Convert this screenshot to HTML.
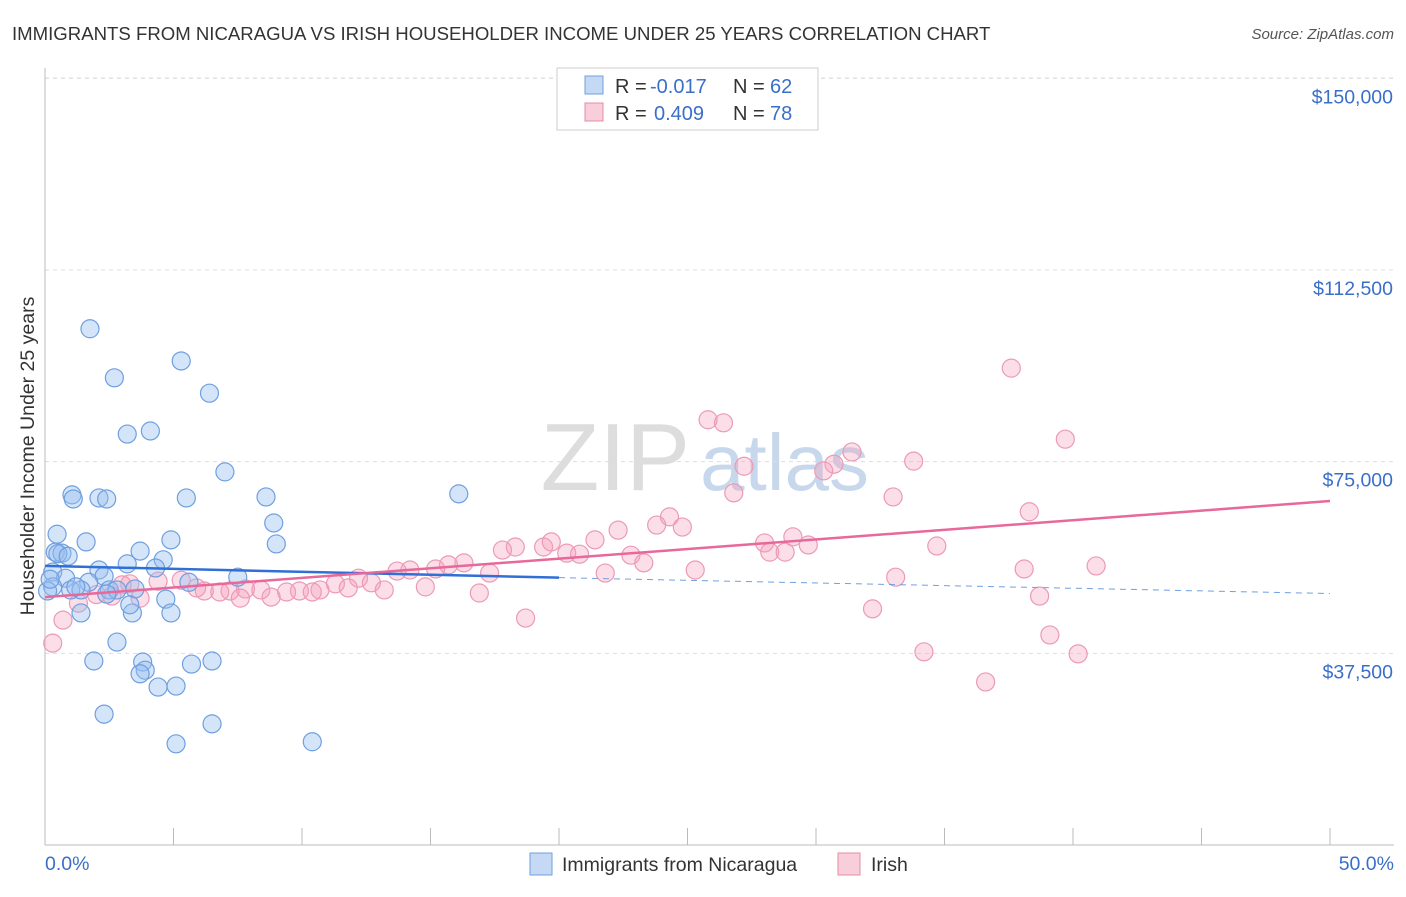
<!DOCTYPE html>
<html><head><meta charset="utf-8"><style>
body{margin:0;background:#fff;font-family:"Liberation Sans",sans-serif}
svg text{font-family:"Liberation Sans",sans-serif}
</style></head><body>
<svg width="1406" height="892" viewBox="0 0 1406 892">
<text x="12" y="40" font-size="18.6" fill="#333">IMMIGRANTS FROM NICARAGUA VS IRISH HOUSEHOLDER INCOME UNDER 25 YEARS CORRELATION CHART</text>
<text x="1394" y="39" font-size="15" fill="#555" font-style="italic" text-anchor="end">Source: ZipAtlas.com</text>
<text x="690" y="490" font-size="96" fill="#ddd" font-family="Liberation Serif" text-anchor="end">ZIP</text>
<text x="700" y="490" font-size="80" fill="#c8d8ec">atlas</text>
<g id="grid"></g>
<g id="axes"></g>
<text transform="translate(34,456) rotate(-90)" font-size="19.5" fill="#333" text-anchor="middle">Householder Income Under 25 years</text>
<text x="45" y="870" font-size="19.5" fill="#3a6fc8">0.0%</text>
<text x="1394" y="870" font-size="19.5" fill="#3a6fc8" text-anchor="end">50.0%</text>
<g id="pts"></g>
<g id="lines"></g>
<g>
<rect x="557" y="68" width="261" height="62" fill="#fff" stroke="#ccc"/>
<rect x="585" y="76" width="18" height="18" fill="#c5d9f5" stroke="#6f9fe0"/>
<rect x="585" y="103" width="18" height="18" fill="#f9cedb" stroke="#e889a6"/>
<text x="615" y="93" font-size="20" fill="#333">R =</text>
<text x="650" y="93" font-size="20" fill="#3a6fc8">-0.017</text>
<text x="733" y="93" font-size="20" fill="#333">N =</text>
<text x="770" y="93" font-size="20" fill="#3a6fc8">62</text>
<text x="615" y="120" font-size="20" fill="#333">R =</text>
<text x="654" y="120" font-size="20" fill="#3a6fc8">0.409</text>
<text x="733" y="120" font-size="20" fill="#333">N =</text>
<text x="770" y="120" font-size="20" fill="#3a6fc8">78</text>
</g>
<g>
<rect x="530" y="853" width="22" height="22" fill="#c5d9f5" stroke="#6f9fe0"/>
<text x="562" y="871" font-size="19.5" fill="#333">Immigrants from Nicaragua</text>
<rect x="838" y="853" width="22" height="22" fill="#f9cedb" stroke="#e889a6"/>
<text x="871" y="871" font-size="19.5" fill="#333">Irish</text>
</g>
</svg>
<script>
const yTicks=[37500,75000,112500,150000];
const yTickLabels=["$37,500","$75,000","$112,500","$150,000"];
const xTicks=[0,5,10,15,20,25,30,35,40,45,50];
const blueX=[1.75,5.3,2.7,6.4,3.2,4.1,7.0,1.05,1.1,2.1,2.4,5.5,8.6,16.1,8.9,0.47,1.6,4.9,9.0,0.4,0.66,3.7,4.6,3.2,2.1,4.3,0.3,0.8,2.3,7.5,5.6,1.7,0.3,1.0,1.4,2.5,2.8,3.5,0.1,2.4,4.7,1.4,3.4,4.9,3.3,2.8,1.9,3.8,6.5,5.7,3.9,3.7,4.4,5.1,2.3,6.5,5.1,10.4,0.5,0.2,0.9,1.2];
const blueY=[101000,94700,91400,88400,80400,81000,73000,68500,67700,67900,67700,67900,68100,68700,63000,60800,59300,59700,58900,57300,57100,57500,55800,55000,53800,54200,53400,52200,52600,52400,51400,51400,50500,49900,49900,49900,49900,50100,49700,49100,48100,45400,45400,45400,47000,39700,36000,35800,36000,35400,34200,33500,30900,31100,25600,23700,19800,20200,57000,52000,56500,50500];
const pinkX=[37.6,39.7,25.8,26.4,31.4,33.8,27.2,30.7,30.3,26.8,33.0,24.3,38.3,23.8,24.8,22.3,21.4,28.0,29.1,29.7,34.7,18.3,19.4,19.7,17.8,20.3,20.8,22.8,23.3,28.2,28.8,16.3,15.7,15.2,14.2,13.7,17.3,21.8,25.3,40.9,38.1,33.1,12.2,12.7,11.3,11.8,10.7,9.9,9.4,8.4,7.8,7.2,6.8,6.2,5.9,5.3,4.4,3.3,3.0,2.6,3.7,7.6,8.8,10.4,13.2,14.8,16.9,38.7,32.2,18.7,0.7,1.3,0.3,39.1,34.2,40.2,36.6,2.0];
const pinkY=[93300,79400,83200,82600,76900,75100,74100,74500,73200,68900,68100,64200,65200,62600,62200,61600,59700,59100,60300,58700,58500,58300,58300,59300,57700,57100,56900,56700,55200,57300,57300,55200,54800,54000,53800,53600,53200,53200,53800,54600,54000,52400,52200,51300,51100,50300,49900,49700,49500,49900,50100,49700,49500,49700,50300,51800,51600,51100,50900,48700,48300,48300,48500,49500,49900,50500,49300,48700,46200,44400,44000,47300,39500,41100,37800,37400,31900,49000];
const blueTrend=[[0,54600],[20,52300],[50,49200]];
const pinkTrend=[[0,48500],[50,67300]];
const NS="http://www.w3.org/2000/svg";
const X=v=>45+v/50*1285, Y=v=>845-v*191.67/37500;
function mk(t,a,p){const e=document.createElementNS(NS,t);for(const k in a)e.setAttribute(k,a[k]);p.appendChild(e);return e;}
const grid=document.getElementById('grid'),axes=document.getElementById('axes');
yTicks.forEach((v,i)=>{
 const l=mk('line',{x1:45,x2:1394,y1:Y(v),y2:Y(v),stroke:'#ddd','stroke-dasharray':'4,4'},grid);
 
 
 const t=mk('text',{x:1393,y:Y(v)+25,'font-size':19.5,fill:'#3a6fc8','text-anchor':'end'},grid);
 t.textContent=yTickLabels[i];
 
 
});
const gl=mk('line',{x1:45,x2:1394,y1:78,y2:78,stroke:'#ddd','stroke-dasharray':'4,4'},grid);


const ya=mk('line',{x1:45,x2:45,y1:68,y2:845,stroke:'#bbb'},axes);


const xa=mk('line',{x1:45,x2:1394,y1:845,y2:845,stroke:'#bbb'},axes);


xTicks.forEach(v=>{const t=mk('line',{x1:X(v),x2:X(v),y1:828,y2:845,stroke:'#bbb'},axes);
 
 });
const pts=document.getElementById('pts');
pinkX.forEach((v,i)=>{const c=mk('circle',{cx:X(v),cy:Y(pinkY[i]),r:9,fill:'rgba(244,160,188,0.35)',stroke:'#ec9ab5','stroke-width':1.2},pts);
 
 });
blueX.forEach((v,i)=>{const c=mk('circle',{cx:X(v),cy:Y(blueY[i]),r:9,fill:'rgba(150,190,240,0.4)',stroke:'#6f9fe0','stroke-width':1.2},pts);
 
 });
const lines=document.getElementById('lines');
const b1=mk('line',{x1:X(blueTrend[0][0]),y1:Y(blueTrend[0][1]),x2:X(blueTrend[1][0]),y2:Y(blueTrend[1][1]),stroke:'#2f6fd6','stroke-width':2.5},lines);


const b2=mk('line',{x1:X(blueTrend[1][0]),y1:Y(blueTrend[1][1]),x2:X(blueTrend[2][0]),y2:Y(blueTrend[2][1]),stroke:'#6f9fe0','stroke-width':1,'stroke-dasharray':'6,5'},lines);


const p1=mk('line',{x1:X(pinkTrend[0][0]),y1:Y(pinkTrend[0][1]),x2:X(pinkTrend[1][0]),y2:Y(pinkTrend[1][1]),stroke:'#e8689a','stroke-width':2.5},lines);


</script>
</body></html>
